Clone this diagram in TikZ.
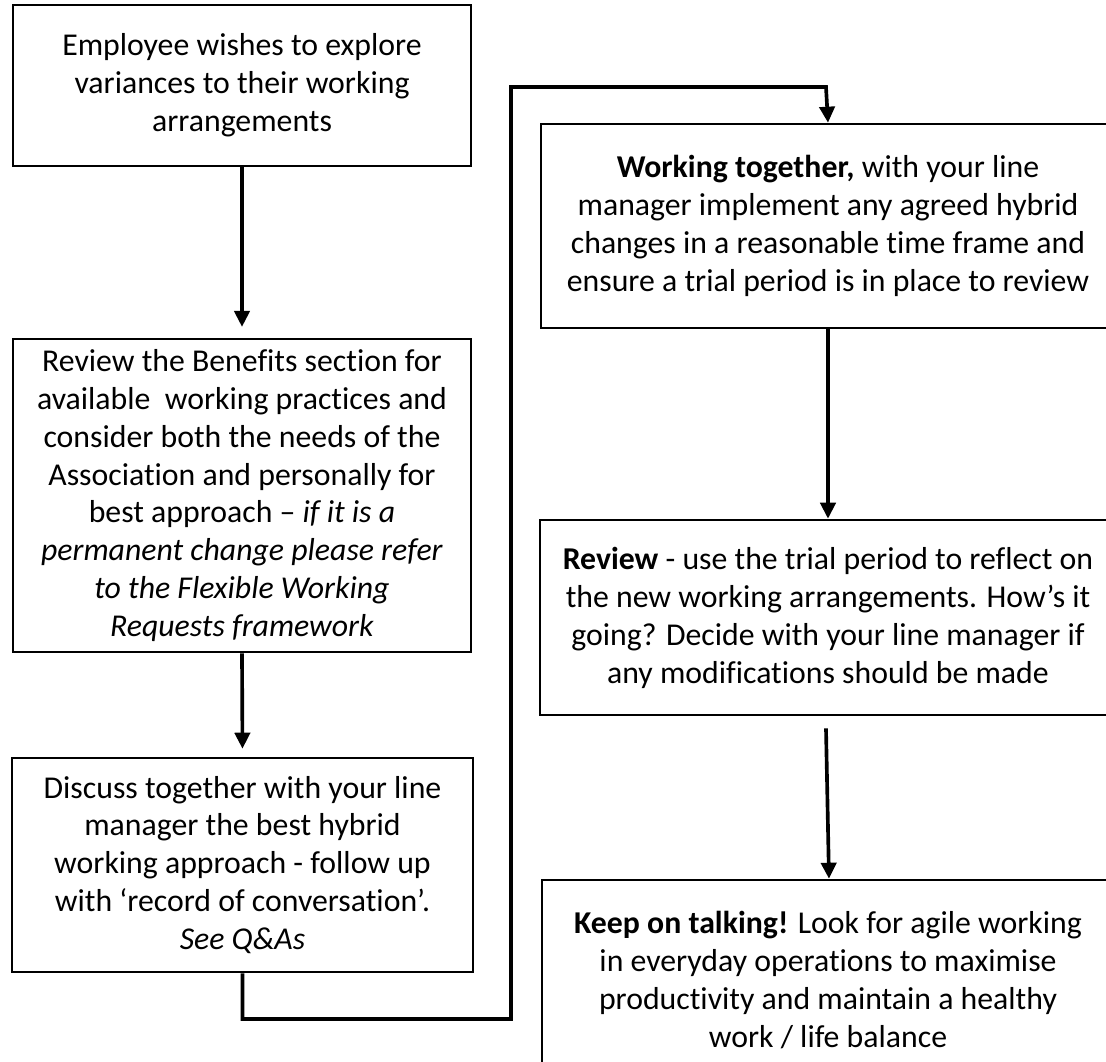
\documentclass[tikz,border=0pt]{standalone}
\usepackage{fontspec}
\setmainfont{Carlito}[Ligatures=NoCommon]
\usetikzlibrary{arrows.meta,calc}

\tikzset{
  stepbox/.style={draw, line width=1.8pt, align=center, inner sep=0pt,
    font=\fontsize{22.6}{27}\selectfont},
  flow/.style={line width=2.6pt, -{Triangle[width=0.38cm,length=0.4cm]}},
}

\begin{document}
\begin{tikzpicture}[x=0.025cm, y=-0.025cm]
  \useasboundingbox (0,0) rectangle (1106,1061);
  \clip (0,0) rectangle (1106,1061);

  % left column
  \node[stepbox, minimum width=11.45cm, minimum height=4.025cm] (explore) at (242,85.5)
    {Employee wishes to explore\\variances to their working\\arrangements};
  \node[stepbox, minimum width=11.45cm, minimum height=7.825cm] (benefits) at (242,495.5)
    {Review the Benefits section for\\available \ working practices and\\consider both the needs of the\\Association and personally for\\best approach -- \textit{if it is a}\\\textit{permanent change please refer}\\\textit{to the Flexible Working}\\\textit{Requests framework}};
  \node[stepbox, minimum width=11.525cm, minimum height=5.35cm] (discuss) at (242.5,865)
    {Discuss together with your line\\manager the best hybrid\\working approach - follow up\\with ‘record of conversation’.\\\textit{See Q\&As}};

  % right column
  \node[stepbox, minimum width=14.35cm, minimum height=5.1cm] (together) at (828,226)
    {\textbf{Working together,} with your line\\manager implement any agreed hybrid\\changes in a reasonable time frame and\\ensure a trial period is in place to review};
  \node[stepbox, minimum width=14.4cm, minimum height=4.875cm] (review) at (828,617.5)
    {\textbf{Review} - use the trial period to reflect on\\the new working arrangements. How’s it\\going? Decide with your line manager if\\any modifications should be made};
  \node[stepbox, minimum width=14.3cm, minimum height=5cm] (talking) at (828,980)
    {\textbf{Keep on talking!} Look for agile working\\in everyday operations to maximise\\productivity and maintain a healthy\\work / life balance};

  % connectors
  \coordinate (low) at (511,1019);
  \coordinate (high) at (511,87);
  \draw[flow, shorten >=0.27cm] (explore.south) -- (benefits.north);
  \draw[flow, shorten >=0.2cm] (benefits.south) -- (discuss.north);
  \draw[flow] (discuss.south) |- (low) -- (high) -- ($(together.north |- high)+(-2,0)$) -- (together.north);
  \draw[flow] (together.south) -- (review.north);
  \draw[flow] ($(review.south)+(-2,12)$) -- ($(talking.north)+(1,0)$);
\end{tikzpicture}
\end{document}
